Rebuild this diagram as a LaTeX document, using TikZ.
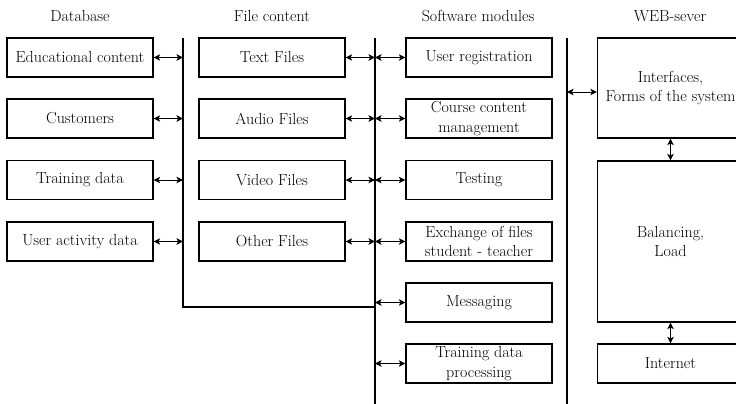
\documentclass[tikz,border=0pt]{standalone}
\usetikzlibrary{arrows.meta}
\begin{document}
\begin{tikzpicture}[x=1pt,y=-1pt,
 box/.style={draw, line width=1.2pt, minimum width=146pt, minimum height=39pt, inner sep=0pt, align=center, font=\rmfamily\fontsize{16}{19.5}\selectfont},
 ttl/.style={font=\rmfamily\fontsize{16}{19}\selectfont, inner sep=0pt},
 bar/.style={line width=2.6pt},
 link/.style={line width=1pt, {Stealth[length=6.5pt,width=6.5pt,inset=1.5pt]}-{Stealth[length=6.5pt,width=6.5pt,inset=1.5pt]}}]
\useasboundingbox (0,0) rectangle (736,404);
% titles
\node[ttl] (t1) at (80,16) {Database};
\node[ttl] (t2) at (272,16) {File content};
\node[ttl] (t3) at (478,16) {Software modules};
\node[ttl] (t4) at (670,16) {WEB-sever};
% bars
\coordinate (b1t) at (183,38);
\coordinate (b1b) at (183,307);
\coordinate (b2t) at (375,38);
\coordinate (b2b) at (375,404);
\coordinate (b3t) at (567,38);
\coordinate (b3b) at (567,404);
\draw[bar] (b1t) -- (b1b) -- (b1b -| b2t);
\draw[bar] (b2t) -- (b2b);
\draw[bar] (b3t) -- (b3b);
% database
\node[box] (d1) at (80,57.5) {Educational content};
\node[box] (d2) at (80,118.5) {Customers};
\node[box] (d3) at (80,180) {Training data};
\node[box] (d4) at (80,241.5) {User activity data};
% files
\node[box] (f1) at (272,57.5) {Text Files};
\node[box] (f2) at (272,118.5) {Audio Files};
\node[box] (f3) at (272,180) {Video Files};
\node[box] (f4) at (272,241.5) {Other Files};
% modules
\node[box] (m1) at (479,57.5) {User registration};
\node[box] (m2) at (479,118.5) {Course content\\management};
\node[box] (m3) at (479,180) {Testing};
\node[box] (m4) at (479,241.5) {Exchange of files\\student - teacher};
\node[box] (m5) at (479,302.5) {Messaging};
\node[box] (m6) at (479,363.5) {Training data\\processing};
% web
\node[box, minimum height=100pt] (w1) at (670.5,88) {Interfaces,\\Forms of the system};
\node[box, minimum height=161pt] (w2) at (670.5,241.5) {Balancing,\\Load};
\node[box] (w3) at (670.5,363.5) {Internet};
% links
\foreach \n in {d1,d2,d3,d4} \draw[link] (\n.east) -- (\n.east -| b1t);
\foreach \n in {f1,f2,f3,f4} \draw[link] (\n.east) -- (\n.east -| b2t);
\foreach \n in {m1,m2,m3,m4,m5,m6} \draw[link] (\n.west) -- (\n.west -| b2t);
\draw[link] ([yshift=-4pt]w1.west) -- ([yshift=-4pt]w1.west -| b3t);
\draw[link] (w1.south) -- (w2.north);
\draw[link] (w2.south) -- (w3.north);
\end{tikzpicture}
\end{document}
